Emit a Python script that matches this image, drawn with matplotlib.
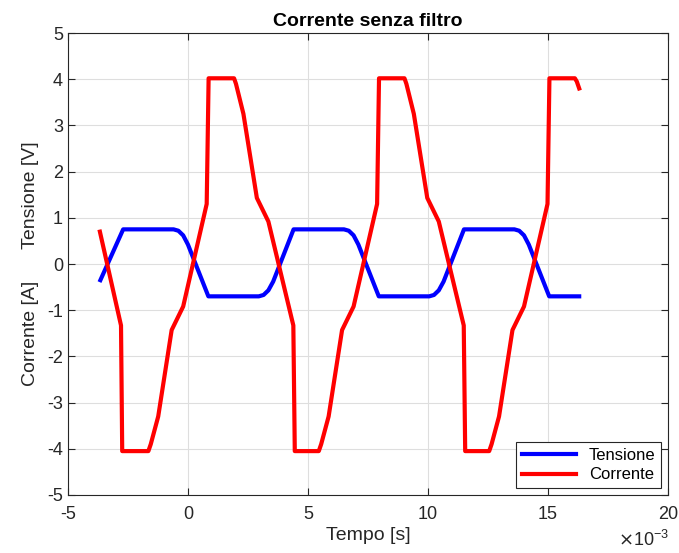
import matplotlib.pyplot as plt

plt.rcParams['font.family'] = ['Liberation Sans', 'DejaVu Sans']

# Tensione (blue)
t_tens = [-3.65, -2.70, -0.60, -0.40, -0.20, 0.00, 0.85, 2.95, 3.15, 3.35, 3.55, 4.40,
          6.50, 6.70, 6.90, 7.10, 7.95, 10.05, 10.25, 10.45, 10.65, 11.50,
          13.60, 13.80, 14.00, 14.20, 15.05, 16.30]
v_tens = [-0.35, 0.75, 0.75, 0.72, 0.62, 0.42, -0.70, -0.70, -0.67, -0.57, -0.38, 0.75,
          0.75, 0.72, 0.62, 0.42, -0.70, -0.70, -0.67, -0.57, -0.38, 0.75,
          0.75, 0.72, 0.62, 0.42, -0.70, -0.70]

# Corrente (red)
t_corr = [-3.67, -2.79, -2.74, -1.65, -1.55, -1.24, -0.68, -0.20, 0.78, 0.86, 1.92, 2.00, 2.31, 2.87, 3.35,
          4.39, 4.45, 5.45, 5.55, 5.86, 6.42, 6.90, 7.88, 7.96, 9.02, 9.10, 9.41, 9.97, 10.45,
          11.49, 11.55, 12.55, 12.65, 12.96, 13.52, 14.00, 14.98, 15.06, 16.12, 16.20, 16.30]
i_corr = [0.70, -1.33, -4.05, -4.05, -3.90, -3.30, -1.43, -0.92, 1.30, 4.02, 4.02, 3.90, 3.25, 1.43, 0.92,
          -1.33, -4.05, -4.05, -3.90, -3.30, -1.43, -0.92, 1.30, 4.02, 4.02, 3.90, 3.25, 1.43, 0.92,
          -1.33, -4.05, -4.05, -3.90, -3.30, -1.43, -0.92, 1.30, 4.02, 4.02, 3.95, 3.80]

xticks = [-5, 0, 5, 10, 15, 20]
yticks = [-5, -4, -3, -2, -1, 0, 1, 2, 3, 4, 5]

fig = plt.figure(figsize=(6.79, 5.53), dpi=100)
ax = fig.add_axes([0.1001, 0.1049, 0.8837, 0.8354])

ax.plot([t * 1e-3 for t in t_tens], v_tens, color="blue", linewidth=3, label="Tensione")
ax.plot([t * 1e-3 for t in t_corr], i_corr, color="red", linewidth=3, label="Corrente")

ax.set_xlim(-5e-3, 20e-3)
ax.set_ylim(-5, 5)
ax.set_xticks([x * 1e-3 for x in xticks])
ax.set_yticks(yticks)
ax.set_xticklabels([str(x) for x in xticks])
ax.set_yticklabels([str(y) for y in yticks])
ax.tick_params(direction="in", top=True, right=True, labelsize=13, colors="#262626", length=5)
ax.tick_params(axis="x", pad=8)
for s in ax.spines.values():
    s.set_color("#262626")
    s.set_linewidth(0.8)
ax.grid(True, color="#dedede", linewidth=0.8)
ax.set_axisbelow(True)

ax.set_title("Corrente senza filtro", fontsize=14, fontweight="bold", pad=5)
ax.set_xlabel("Tempo [s]", fontsize=14, color="#262626", labelpad=3)
ax.set_ylabel("Corrente [A]      Tensione [V]", fontsize=14, color="#262626", labelpad=6)
fig.text(0.91, 0.012, r"$\times\mathregular{10^{-3}}$", fontsize=13, color="#262626")

leg = ax.legend(loc="lower right", fontsize=12, fancybox=False, framealpha=1,
                edgecolor="#262626", handlelength=3.2, borderaxespad=0.4,
                labelspacing=0.25, borderpad=0.35)
leg.get_frame().set_linewidth(0.8)

fig.savefig("out.png", dpi=100)
